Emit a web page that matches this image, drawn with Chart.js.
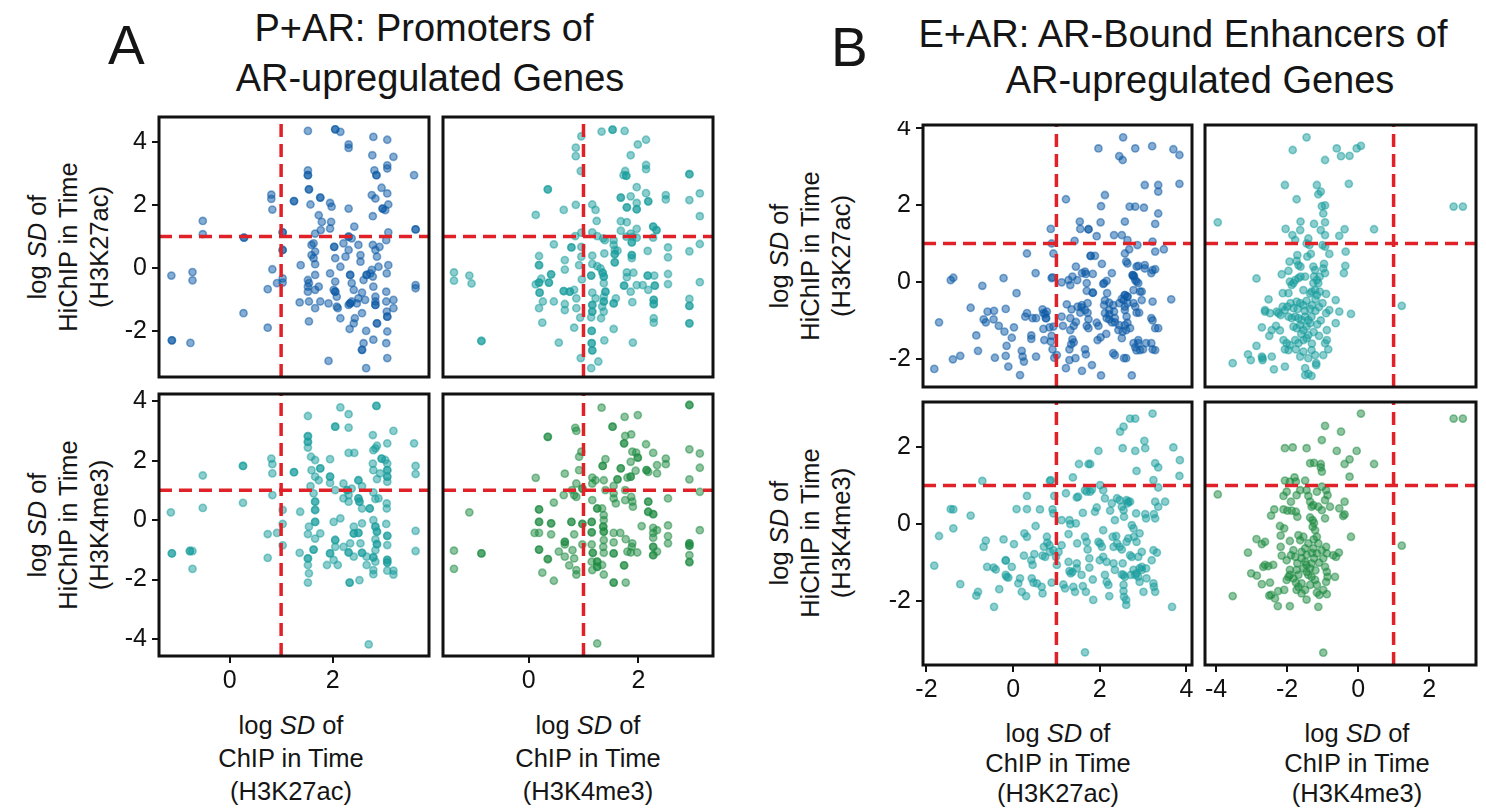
<!DOCTYPE html>
<html><head><meta charset="utf-8">
<script src="https://cdn.jsdelivr.net/npm/chart.js@4.4.1/dist/chart.umd.min.js"></script>
<style>
html,body{margin:0;padding:0;background:#fff;}
body{width:1486px;height:808px;position:relative;overflow:hidden;font-family:"Liberation Sans",Arial,Helvetica,sans-serif;color:#151515;}
.t{position:absolute;white-space:nowrap;line-height:1;}
.ctr{transform:translateX(-50%);}
.lbl{position:absolute;text-align:center;font-size:25.5px;line-height:33px;white-space:nowrap;transform:translateX(-50%);}
.ylbl{position:absolute;text-align:center;font-size:25.5px;line-height:31px;white-space:nowrap;transform:translate(-50%,-50%) rotate(-90deg);}
canvas{position:absolute;}
</style></head><body>

<div class="t" style="left:108px;top:18px;font-size:55px;">A</div>
<div class="t ctr" style="left:424px;top:9px;font-size:38px;">P+AR: Promoters of</div>
<div class="t ctr" style="left:430px;top:59px;font-size:38px;">AR-upregulated Genes</div>
<div class="t" style="left:831px;top:20px;font-size:55px;">B</div>
<div class="t ctr" style="left:1183px;top:15px;font-size:38px;">E+AR: AR-Bound Enhancers of</div>
<div class="t ctr" style="left:1200px;top:61px;font-size:38px;">AR-upregulated Genes</div>

<div class="ylbl" style="left:68px;top:247px;">log <i>SD</i> of<br>HiChIP in Time<br>(H3K27ac)</div>
<div class="ylbl" style="left:68px;top:525px;">log <i>SD</i> of<br>HiChIP in Time<br>(H3K4me3)</div>
<div class="ylbl" style="left:810px;top:256px;">log <i>SD</i> of<br>HiChIP in Time<br>(H3K27ac)</div>
<div class="ylbl" style="left:810px;top:533px;">log <i>SD</i> of<br>HiChIP in Time<br>(H3K4me3)</div>

<div class="lbl" style="left:291px;top:709px;">log <i>SD</i> of<br>ChIP in Time<br>(H3K27ac)</div>
<div class="lbl" style="left:588px;top:709px;">log <i>SD</i> of<br>ChIP in Time<br>(H3K4me3)</div>
<div class="lbl" style="left:1058px;top:718px;line-height:30px;">log <i>SD</i> of<br>ChIP in Time<br>(H3K27ac)</div>
<div class="lbl" style="left:1357px;top:718px;line-height:30px;">log <i>SD</i> of<br>ChIP in Time<br>(H3K4me3)</div>

<script>
// ---------------- DATA ----------------
const THRESHOLD = 1;

// Axis ranges
const A_X_RANGE_K27 = [-1.37, 3.87];
const A_X_RANGE_K4  = [-1.56, 3.36];
const A_Y_RANGE_K27 = [-3.45, 4.78];
const A_Y_RANGE_K4  = [-4.57, 4.24];
const B_X_RANGE_K27 = [-2.08, 4.13];
const B_X_RANGE_K4  = [-4.31, 3.32];
const B_Y_RANGE_K27 = [-2.73, 4.08];
const B_Y_RANGE_K4  = [-3.66, 3.17];

// Tick values
const A_X_TICKS = [0, 2];
const A_Y_TICKS_K27 = [-2, 0, 2, 4];
const A_Y_TICKS_K4 = [-4, -2, 0, 2, 4];
const B_X_TICKS_K27 = [-2, 0, 2, 4];
const B_X_TICKS_K4 = [-4, -2, 0, 2];
const B_Y_TICKS_K27 = [-2, 0, 2, 4];
const B_Y_TICKS_K4 = [-2, 0, 2];

// Panel A: promoters  [ChIP logSD, HiChIP logSD]
const promChipK27_hichipK27 = [[-1.13,-0.24],[-0.72,-0.13],[-0.72,-0.39],[-0.52,1.49],[-0.52,1.07],[-1.12,-2.29],[-1.12,-2.29],[-0.76,-2.37],[0.28,0.96],[0.28,0.96],[0.27,-1.43],[0.74,-1.89],[0.74,-0.67],[0.83,-0.04],[0.81,2.32],[0.81,2.19],[0.83,1.85],[0.92,-0.48],[1.03,1.13],[1.03,1.13],[1.03,0.57],[1.03,0.57],[1.03,-0.33],[1.03,-0.46],[1.25,2.12],[1.25,2.12],[1.38,0.09],[1.36,-1.09],[1.52,4.34],[1.52,3.09],[1.52,2.94],[1.52,2.94],[1.54,2.49],[1.54,2.49],[1.57,2.01],[1.54,-1.69],[1.54,-1.06],[1.52,-0.38],[1.52,-0.59],[1.52,-0.75],[1.54,-0.48],[1.59,0.73],[1.59,0.41],[1.63,0.78],[1.66,1.09],[1.66,0.52],[1.66,0.12],[1.63,0.31],[1.66,-0.22],[1.66,-0.69],[1.66,-1.27],[1.73,-0.59],[1.76,-1.06],[1.73,1.67],[1.79,1.46],[1.77,1.2],[1.95,2.06],[1.98,1.94],[1.97,1.46],[1.95,1.25],[1.76,2.23],[1.76,2.23],[2.05,4.39],[2.05,4.39],[2.15,4.31],[2.31,3.91],[2.31,3.8],[2.31,1.88],[2.03,0.67],[2.03,0.67],[2.05,0.31],[2.15,0.04],[1.95,-0.17],[2.05,-0.43],[2.02,-0.69],[2.05,-0.75],[2.05,-0.75],[1.92,-1.12],[2.08,-0.91],[2.10,-1.27],[2.15,-1.59],[2.08,-1.22],[1.92,-2.94],[2.21,0.78],[2.31,0.99],[2.31,0.99],[2.37,0.94],[2.42,1.31],[2.31,0.57],[2.25,0.36],[2.34,-0.22],[2.34,-0.22],[2.37,-0.48],[2.41,-0.69],[2.37,-1.06],[2.31,-1.17],[2.34,-1.12],[2.34,-1.12],[2.47,-1.12],[2.50,-0.96],[2.33,-1.93],[2.41,-1.75],[2.43,-1.59],[2.57,-1.43],[2.50,0.73],[2.54,0.41],[2.54,0.2],[2.60,-0.38],[2.57,-0.78],[2.63,-1.01],[2.66,-0.22],[2.66,-0.22],[2.73,-0.17],[2.76,-0.06],[2.78,-0.27],[2.79,-0.59],[2.83,-0.91],[2.83,-1.06],[2.83,-1.17],[2.83,-1.17],[2.60,-2.38],[2.57,-2.59],[2.57,-2.59],[2.65,-3.17],[2.65,-1.99],[2.79,-2.27],[2.86,-1.75],[2.86,-1.75],[2.79,4.15],[2.77,3.57],[2.81,3.09],[2.85,2.94],[2.85,2.94],[2.76,2.31],[2.78,1.64],[2.83,2.2],[2.78,0.73],[2.83,0.57],[2.91,0.67],[2.86,0.36],[2.89,0.04],[2.95,2.54],[2.97,1.88],[2.97,1.88],[3.02,1.83],[3.06,2.36],[3.06,3.25],[3.06,3.15],[3.06,4.06],[3.18,3.52],[3.08,2.01],[3.04,0.88],[3.08,1.13],[3.05,-0.17],[3.04,-0.75],[3.04,-1.06],[3.05,-1.38],[3.06,-1.54],[3.06,-1.54],[3.06,-2.01],[3.04,-2.38],[3.06,-2.85],[3.18,-1.01],[3.18,-1.27],[3.08,0.09],[3.58,2.94],[3.61,1.22],[3.61,1.22],[3.61,-0.54],[3.61,-0.64]];

const promChipK4_hichipK27 = [[-1.36,-0.14],[-1.36,-0.4],[-1.08,-0.24],[-1.04,-0.49],[-0.86,-2.31],[-0.86,-2.31],[0.35,2.49],[0.35,2.49],[0.13,1.68],[0.64,1.84],[0.86,2.0],[0.96,4.17],[0.86,3.81],[0.86,3.54],[0.95,3.07],[1.33,4.32],[1.53,4.38],[1.53,4.38],[1.75,4.34],[1.99,3.91],[2.14,4.06],[1.86,3.57],[2.14,3.26],[2.14,3.13],[1.76,3.07],[1.73,2.94],[1.78,2.92],[1.78,2.92],[2.93,2.97],[2.93,2.97],[3.12,2.36],[2.93,2.15],[3.12,1.64],[2.5,2.31],[2.5,2.17],[1.97,2.56],[1.86,2.27],[1.68,2.23],[1.68,2.23],[2.14,2.37],[2.18,2.11],[2.18,2.11],[1.97,2.06],[1.79,1.92],[1.79,1.92],[1.97,1.86],[1.97,1.86],[1.16,2.01],[1.22,1.84],[1.24,1.49],[1.68,1.48],[1.79,1.45],[1.68,1.18],[1.97,1.24],[1.86,1.09],[2.27,1.31],[2.27,1.31],[2.33,1.2],[2.33,1.2],[2.27,0.96],[0.85,1.01],[0.96,1.12],[1.16,1.13],[1.25,1.01],[1.36,0.94],[1.39,0.88],[1.55,0.88],[1.78,0.99],[1.9,0.99],[1.97,0.96],[0.46,0.75],[0.78,0.65],[0.78,0.65],[0.96,0.67],[0.96,0.36],[0.92,0.09],[0.19,0.38],[0.19,0.09],[0.19,0.09],[0.66,0.25],[0.66,-0.05],[1.16,0.39],[1.16,0.13],[1.25,0.06],[1.38,0.46],[1.55,0.73],[1.57,0.57],[1.57,0.44],[1.57,0.44],[1.57,0.18],[1.57,0.18],[1.62,0.55],[1.88,0.81],[1.88,0.81],[1.88,0.41],[1.88,0.41],[1.88,0.31],[2.17,0.54],[2.54,0.65],[2.54,0.34],[2.93,0.53],[3.12,0.76],[1.31,-0.01],[1.35,-0.15],[1.35,-0.15],[1.37,-0.27],[1.37,-0.27],[1.14,-0.24],[1.14,-0.24],[1.79,-0.14],[1.79,-0.29],[1.91,-0.15],[2.17,-0.24],[2.17,-0.24],[2.29,-0.24],[2.54,-0.19],[0.41,-0.2],[0.41,-0.2],[0.37,-0.46],[0.37,-0.46],[0.19,-0.46],[0.19,-0.46],[0.13,-0.52],[0.23,-0.34],[0.97,-0.36],[0.64,-0.73],[0.64,-0.73],[0.75,-0.75],[0.75,-0.75],[0.83,-0.69],[0.2,-0.78],[0.2,-0.78],[1.37,-0.48],[1.4,-0.75],[1.4,-0.75],[1.37,-0.91],[1.37,-1.06],[1.37,-1.06],[1.34,-1.22],[1.37,-1.38],[1.32,-1.59],[1.16,-0.78],[1.22,-0.96],[1.16,-1.17],[1.16,-1.17],[1.16,-1.38],[1.16,-1.38],[1.14,-1.56],[1.55,-1.12],[1.55,-1.12],[1.59,-0.96],[1.74,-0.56],[1.74,-0.56],[1.86,-0.75],[1.89,-1.08],[1.97,-0.54],[2.08,-0.54],[2.18,-0.69],[2.3,-0.56],[2.3,-0.56],[2.28,-1.01],[2.28,-1.01],[2.28,-1.14],[2.28,-1.14],[2.28,-1.59],[2.28,-1.73],[2.54,-0.51],[2.93,-0.98],[2.93,-1.2],[2.93,-1.2],[2.93,-1.75],[2.93,-1.75],[3.12,-0.45],[0.26,-1.06],[0.19,-1.27],[0.46,-1.06],[0.66,-1.14],[0.66,-1.33],[0.87,-0.96],[0.87,-1.27],[0.94,-1.57],[0.25,-1.73],[0.83,-1.89],[0.55,-2.36],[1.15,-1.99],[1.15,-1.99],[1.15,-2.38],[1.15,-2.38],[1.16,-2.61],[1.16,-2.61],[1.27,-2.96],[1.14,-3.17],[1.38,-2.29],[1.55,-1.93],[1.9,-2.36],[0.95,-2.85]];

const promChipK27_hichipK4 = [[-1.14,0.26],[-1.12,-1.12],[-1.12,-1.12],[-0.77,-1.04],[-0.77,-1.04],[-0.72,-1.04],[-0.72,-1.64],[-0.52,1.5],[-0.52,0.41],[0.26,1.82],[0.26,1.82],[0.26,0.58],[0.81,2.07],[0.83,1.88],[0.83,1.57],[0.83,0.84],[0.74,-0.47],[0.92,-0.43],[0.74,-1.27],[1.03,0.34],[1.03,-0.13],[1.03,-0.85],[1.25,1.61],[1.25,1.61],[1.37,0.28],[1.36,-1.1],[1.52,3.5],[1.52,2.82],[1.52,2.82],[1.52,2.63],[1.52,2.63],[1.52,2.44],[1.58,2.13],[1.66,2.02],[1.59,1.68],[1.66,1.46],[1.76,1.74],[1.76,1.74],[1.73,1.34],[1.57,1.14],[1.63,0.9],[1.66,0.62],[1.66,0.62],[1.66,0.34],[1.66,0.34],[1.54,-0.22],[1.52,-0.47],[1.66,-0.06],[1.66,-0.06],[1.66,-0.62],[1.76,-0.45],[1.63,-0.99],[1.63,-0.99],[1.52,-1.29],[1.52,-1.29],[1.52,-1.51],[1.54,-1.79],[1.52,-2.1],[1.95,2.05],[2.05,3.14],[2.05,3.14],[2.15,3.79],[2.31,3.56],[2.31,3.11],[2.31,2.26],[2.42,2.26],[1.95,1.46],[1.95,1.46],[1.95,1.25],[2.05,1.01],[2.21,1.23],[2.28,1.01],[2.28,1.01],[2.37,1.06],[2.57,1.14],[2.21,0.73],[2.31,0.84],[2.31,0.62],[2.02,-0.06],[2.15,0.06],[2.05,-0.67],[2.05,-0.67],[2.05,-0.9],[1.95,-1.12],[1.95,-1.12],[1.89,-1.51],[2.02,-1.34],[2.1,-1.51],[2.21,-0.9],[2.31,-1.09],[2.31,-1.09],[2.41,-1.23],[2.34,-0.78],[2.41,-0.45],[2.41,-0.45],[2.41,-0.22],[2.5,1.34],[2.5,1.34],[2.5,0.73],[2.5,0.73],[2.52,0.62],[2.52,0.62],[2.57,0.39],[2.5,-0.43],[2.5,-0.43],[2.57,-0.11],[2.54,-0.78],[2.57,-1.1],[2.57,-1.1],[2.33,-2.1],[2.33,-2.1],[2.52,-2.02],[2.66,-1.23],[2.66,-1.51],[2.72,0.39],[2.72,0.39],[2.78,2.86],[2.79,2.35],[2.83,2.41],[2.86,2.5],[2.85,3.84],[2.85,3.84],[2.78,1.9],[2.79,1.68],[2.86,1.38],[2.92,1.57],[2.79,0.93],[2.83,0.71],[2.89,0.73],[2.79,0],[2.83,-0.22],[2.83,-0.22],[2.86,-0.39],[2.86,-0.39],[2.83,-0.65],[2.86,-0.81],[2.86,-0.81],[2.83,-1.01],[2.79,-1.25],[2.79,-1.25],[2.83,-1.4],[2.79,-1.68],[2.79,-1.82],[2.7,-4.18],[2.95,2.07],[2.95,2.07],[3.02,2.02],[3.06,1.9],[3.06,1.68],[3.06,1.68],[3.06,1.46],[3.06,1.46],[3.06,1.29],[3.05,0.56],[3.05,0.39],[3.04,-0.13],[3.06,-0.53],[3.06,-0.53],[3.06,-0.84],[3.06,-1.34],[3.06,-1.34],[3.06,-1.43],[3.06,-1.43],[3.06,-1.7],[3.18,-1.7],[3.18,-1.83],[3.18,3.0],[3.06,2.58],[3.58,2.58],[3.61,1.82],[3.61,1.55],[3.61,-0.36],[3.61,-1.04]];

const promChipK4_hichipK4 = [[-1.36,-1.03],[-1.36,-1.64],[-1.08,0.26],[-0.86,-1.12],[-0.86,-1.12],[0.35,2.8],[0.35,2.8],[0.13,1.42],[0.19,0.36],[0.19,0.36],[0.19,-0.06],[0.19,-0.06],[0.19,-0.99],[0.19,-0.99],[0.11,-0.43],[0.19,-0.43],[0.41,-0.11],[0.41,-0.11],[0.41,-0.48],[0.46,0.59],[0.35,-1.31],[0.35,-1.31],[0.25,-1.77],[0.46,-2.04],[0.66,1.56],[0.64,0.84],[0.66,-0.73],[0.66,-0.73],[0.66,-0.82],[0.55,-1.06],[0.66,-1.23],[0.74,-1.52],[0.83,-1.29],[0.87,-1.68],[0.87,-1.83],[0.8,-1.01],[0.78,-0.06],[0.78,-0.06],[0.83,-0.48],[0.85,3.1],[0.87,3.0],[0.96,2.3],[0.92,2.13],[0.92,1.68],[0.87,1.23],[0.79,1.01],[0.83,0.84],[0.87,0.78],[0.98,1.06],[0.98,1.06],[0.98,-0.13],[0.98,-0.13],[0.98,-0.82],[1.33,3.78],[1.25,-4.15],[1.16,1.43],[1.22,1.34],[1.16,1.23],[1.16,0.67],[1.25,0.39],[1.25,0.39],[1.34,0.39],[1.15,-0.06],[1.15,-0.06],[1.15,-0.41],[1.15,-0.41],[1.15,-0.82],[1.17,-1.1],[1.17,-1.1],[1.15,-1.4],[1.16,-1.68],[1.25,-1.4],[1.25,-1.4],[1.25,-1.57],[1.25,-1.57],[1.34,-1.51],[1.37,-1.83],[1.35,1.82],[1.35,1.82],[1.4,2.05],[1.37,1.34],[1.4,1.01],[1.37,0.17],[1.37,0],[1.36,-0.22],[1.36,-0.22],[1.37,-0.39],[1.37,-0.39],[1.37,-0.67],[1.36,-0.9],[1.37,-1.1],[1.53,3.14],[1.53,3.14],[1.55,1.15],[1.55,0.9],[1.55,0.73],[1.59,0.56],[1.62,1.37],[1.62,1.37],[1.55,-0.43],[1.55,-0.75],[1.55,-1.12],[1.55,-1.12],[1.55,-2.1],[1.55,-2.1],[1.67,-0.43],[1.74,-1.52],[1.74,-1.52],[1.77,-2.1],[1.68,1.74],[1.68,1.74],[1.74,2.58],[1.74,2.58],[1.76,2.83],[1.87,2.88],[1.75,3.47],[1.99,3.53],[1.8,1.43],[1.86,1.46],[1.86,1.46],[1.76,1.01],[1.76,0.67],[1.87,0.78],[1.9,0.45],[1.89,0.62],[1.77,-0.64],[1.89,-0.78],[1.88,-0.9],[1.8,-1.06],[1.86,-1.09],[1.98,-1.09],[1.89,2.3],[1.96,2.27],[1.99,2.1],[1.99,2.1],[1.86,1.96],[1.95,1.66],[2.14,2.55],[2.15,1.68],[2.15,1.68],[2.18,1.62],[2.18,0.62],[2.18,0.62],[2.18,0.28],[2.18,0.28],[2.27,0.2],[2.27,0.2],[2.06,-0.2],[2.27,-0.26],[2.27,-0.43],[2.27,-0.59],[2.27,-0.9],[2.27,-0.9],[2.27,-1.18],[2.27,-1.18],[2.34,-0.34],[2.27,2.26],[2.5,2.07],[2.34,1.85],[2.5,1.88],[2.34,1.57],[2.54,0.73],[2.54,-0.18],[2.54,-0.54],[2.54,-0.78],[2.34,-1.06],[2.93,3.87],[2.93,3.87],[2.93,2.38],[2.93,1.37],[3.12,2.24],[3.12,1.76],[3.12,0.95],[3.12,-0.34],[2.93,-0.78],[2.93,-0.78],[2.93,-0.86],[2.93,-0.86],[2.93,-1.18],[2.93,-1.41],[2.93,-1.41]];

// Panel B: AR-bound enhancers  [ChIP logSD, HiChIP logSD]
const enhChipK27_hichipK27 = [[-1.82,-2.26],[-1.71,-1.05],[-1.44,0.05],[-1.38,0.11],[-1.39,-2.01],[-1.22,-1.92],[-0.98,-0.67],[-0.85,-1.39],[-0.81,-1.79],[-0.71,-0.1],[-0.68,-0.97],[-0.63,-1.05],[-0.59,-0.77],[-0.45,-0.97],[-0.44,-0.75],[-0.42,-1.97],[-0.33,-1.14],[-0.22,0.1],[-0.17,-0.7],[-0.2,-1.29],[-0.15,-1.66],[-0.17,-1.92],[-0.11,-2.2],[-0.03,-1.45],[0.02,-1.18],[0.08,-0.29],[0.2,-1.79],[0.22,-1.94],[0.25,-2.07],[0.16,-2.42],[0.28,-0.9],[0.32,-0.81],[0.45,-0.94],[0.53,-0.94],[0.32,0.74],[0.42,-1.48],[0.42,-1.39],[0.52,0.23],[0.53,-1.94],[0.68,-0.71],[0.7,-0.81],[0.78,-0.77],[0.76,-0.94],[0.76,-0.94],[0.74,-0.83],[0.7,-1.22],[0.84,-1.18],[0.72,-1.51],[0.87,-1.55],[0.89,0.1],[0.91,0.12],[0.93,-1.16],[0.89,-1.4],[0.91,-1.75],[0.95,-1.97],[0.87,1.38],[0.89,1.0],[0.93,0.74],[1.01,-1.9],[1.12,-0.01],[1.12,-0.9],[1.15,-1.14],[1.22,2.15],[1.22,-2.24],[1.3,-2.03],[1.28,0.05],[1.32,-0.08],[1.37,0.14],[1.42,1.07],[1.24,-0.58],[1.35,-0.71],[1.32,-0.94],[1.4,-1.14],[1.32,-1.25],[1.45,-1.04],[1.37,-1.49],[1.4,-1.57],[1.34,-1.62],[1.3,-1.75],[1.45,0.4],[1.48,0.05],[1.49,-0.64],[1.58,-0.66],[1.59,-0.6],[1.55,-0.8],[1.54,1.57],[1.55,1.38],[1.74,1.37],[1.74,1.37],[1.93,1.19],[1.44,-1.98],[1.59,-2.31],[1.66,-1.75],[1.68,-1.88],[1.82,-2.16],[1.59,0.23],[1.66,0.27],[1.68,0.21],[1.84,0.21],[1.7,-0.03],[1.7,-0.23],[1.72,-0.55],[1.66,-0.73],[1.72,-0.8],[1.74,-0.97],[1.7,-1.14],[1.74,-1.2],[1.79,0.68],[1.79,0.68],[1.89,0.68],[1.84,-0.28],[1.84,-0.28],[1.93,-1.06],[1.97,-1.14],[1.95,-1.51],[2.02,-1.44],[2.05,0.47],[1.97,3.47],[2.03,1.97],[2.02,1.55],[2.12,2.26],[2.03,-2.43],[2.08,-0.05],[2.1,-0.03],[2.16,0.03],[2.28,0.23],[2.12,-0.48],[2.1,-0.6],[2.12,-0.81],[2.16,-0.94],[2.17,-0.29],[2.22,-0.54],[2.22,-0.73],[2.22,-0.84],[2.22,-0.97],[2.15,-1.35],[2.33,1.22],[2.51,1.22],[2.31,-0.6],[2.33,-0.77],[2.35,-0.94],[2.45,-0.55],[2.28,-1.05],[2.35,-1.05],[2.43,-1.25],[2.45,-1.12],[2.31,-1.85],[2.35,-1.9],[2.45,3.27],[2.53,3.17],[2.54,3.76],[2.51,-0.44],[2.55,-0.47],[2.58,-0.64],[2.58,-0.34],[2.58,-0.34],[2.64,-0.38],[2.64,-0.38],[2.64,-0.55],[2.58,-0.73],[2.62,-0.9],[2.64,-1.06],[2.58,-1.12],[2.51,-1.46],[2.53,-1.29],[2.61,-1.25],[2.7,-1.2],[2.56,-1.98],[2.61,-1.98],[2.58,0.74],[2.61,0.53],[2.64,0.48],[2.58,1.57],[2.64,1.09],[2.68,0.85],[2.69,1.96],[2.82,1.96],[2.82,3.47],[2.74,-2.43],[2.76,0.18],[2.76,0.18],[2.78,0.14],[2.79,0.16],[2.82,0.05],[2.78,-0.21],[2.85,0.01],[2.78,-0.55],[2.82,-0.64],[2.85,-0.8],[2.85,0.4],[2.87,0.96],[2.89,0.42],[2.78,-1.59],[2.85,-1.78],[2.82,-1.7],[2.89,-0.03],[2.93,-0.25],[2.97,-0.25],[2.91,-0.8],[2.97,-0.47],[2.93,-1.77],[2.89,-1.51],[2.89,-1.59],[3.0,-1.75],[3.07,-1.59],[3.02,1.93],[3.04,2.52],[3.04,0.44],[3.04,0.35],[3.21,3.53],[3.22,1.05],[3.28,1.51],[3.28,0.79],[3.19,0.23],[3.22,0.31],[3.28,0.33],[3.22,-0.51],[3.19,-0.94],[3.22,-1.0],[3.28,-1.2],[3.19,-1.59],[3.22,-1.75],[3.28,-1.77],[3.35,2.35],[3.35,2.52],[3.35,1.78],[3.35,-1.2],[3.48,0.85],[3.65,-0.45],[3.7,3.45],[3.84,3.3],[3.84,2.55]];

const enhChipK4_hichipK27 = [[-3.95,1.55],[-3.53,-2.11],[-3.1,-1.88],[-3.02,-2.03],[-2.86,0.09],[-2.86,-1.66],[-2.71,-1.94],[-2.69,-2.03],[-2.69,-1.98],[-2.43,-1.94],[-2.71,-1.18],[-2.62,-0.73],[-2.52,-0.45],[-2.62,-0.77],[-2.48,-0.81],[-2.5,-1.4],[-2.37,-2.27],[-2.43,-1.25],[-2.31,-1.14],[-2.2,-1.26],[-2.29,-0.77],[-2.24,-0.81],[-2.18,-0.86],[-2.06,-0.73],[-2.12,-0.64],[-2.15,0.2],[-2.12,-0.29],[-1.96,-0.29],[-1.96,0.29],[-2.06,2.52],[-2.04,1.38],[-1.84,3.43],[-1.73,2.15],[-1.85,1.22],[-1.77,1.09],[-1.93,0.53],[-1.73,0.55],[-1.71,0.7],[-1.68,0.44],[-1.62,0.4],[-1.77,0.05],[-1.68,0.1],[-1.62,0.14],[-1.49,0.14],[-1.54,-0.21],[-1.62,1.57],[-1.63,1.35],[-1.45,3.76],[-1.4,1.13],[-1.45,1.0],[-1.37,0.96],[-1.33,0.73],[-1.43,0.66],[-1.87,-0.08],[-1.82,-0.03],[-1.92,0.01],[-1.99,-0.64],[-1.9,-0.55],[-1.82,-0.68],[-1.73,-0.51],[-1.63,-0.55],[-1.54,-0.6],[-1.45,-0.49],[-1.96,-0.9],[-1.87,-0.94],[-1.77,-0.9],[-1.68,-0.94],[-1.59,-0.99],[-1.49,-0.9],[-1.4,-0.99],[-1.31,-0.9],[-1.82,-1.16],[-1.73,-1.2],[-1.63,-1.12],[-1.54,-1.25],[-1.45,-1.16],[-1.35,-1.07],[-2.1,-1.51],[-2.01,-1.59],[-1.92,-1.64],[-1.77,-1.51],[-1.68,-1.59],[-1.54,-1.51],[-1.4,-1.38],[-1.45,-1.46],[-2.06,-1.75],[-1.96,-1.77],[-1.75,-1.75],[-1.63,-1.94],[-1.54,-1.81],[-1.4,-1.98],[-1.31,-1.77],[-1.21,-1.9],[-2.06,-2.2],[-1.49,-2.24],[-1.4,-2.39],[-1.31,-2.44],[-1.49,-2.42],[-1.18,-2.16],[-1.26,0.4],[-1.21,0.31],[-1.24,0.14],[-1.16,0.05],[-1.26,-0.03],[-1.12,-0.03],[-1.08,0.14],[-1.21,-0.21],[-1.16,-0.34],[-1.31,-0.25],[-1.08,-0.25],[-1.16,2.52],[-1.12,2.28],[-1.05,2.35],[-1.02,1.97],[-0.93,1.99],[-0.98,1.78],[-1.24,1.51],[-0.93,1.55],[-1.05,1.35],[-0.93,1.22],[-0.93,3.17],[-1.0,0.96],[-0.93,0.92],[-0.81,0.73],[-0.96,0.47],[-0.98,0.35],[-0.93,0.23],[-0.9,-0.31],[-1.0,-0.55],[-0.9,-0.81],[-0.81,-0.73],[-0.88,-1.25],[-0.88,-1.51],[-0.93,-1.59],[-0.84,-1.75],[-0.98,-1.9],[-1.18,-2.11],[-0.63,-0.47],[-0.53,-0.77],[-0.63,-1.07],[-0.2,-0.83],[-0.6,3.47],[-0.48,3.27],[-0.24,3.28],[-0.04,3.47],[0.08,3.54],[-0.26,2.55],[-0.53,1.2],[-0.38,1.37],[-0.35,0.79],[-0.36,0.42],[-0.4,0.23],[0.45,1.37],[1.23,-0.62],[2.69,1.96],[2.95,1.96],[-1.35,-0.7],[-1.3,-0.6],[-1.2,-0.75],[-1.1,-0.65],[-1.15,-1.1],[-1.25,-1.3],[-1.1,-1.4],[-1.3,-1.6],[-1.6,-1.35],[-1.7,-0.7],[-1.5,-0.75],[-1.2,-0.45],[-1.35,-0.3],[-1.05,-1.0]];

const enhChipK27_hichipK4 = [[-1.82,-1.08],[-1.71,-0.31],[-1.44,0.39],[-1.38,0.38],[-1.38,-0.11],[-1.22,-1.56],[-0.98,0.22],[-0.85,-1.86],[-0.81,-1.76],[-0.71,1.12],[-0.68,-0.59],[-0.63,-0.43],[-0.6,-1.11],[-0.45,-1.13],[-0.4,-1.18],[-0.44,-2.15],[-0.32,-1.69],[-0.22,-0.4],[-0.17,-0.94],[-0.17,-0.95],[-0.15,-1.37],[-0.17,-1.32],[-0.11,-1.39],[-0.03,-1.11],[0.02,-0.52],[0.08,0.39],[0.12,-1.54],[0.16,-1.41],[0.2,-1.76],[0.3,-1.87],[0.25,-0.82],[0.26,-0.24],[0.32,-0.33],[0.32,0.73],[0.32,0.39],[0.43,-1.41],[0.47,-1.52],[0.55,-1.54],[0.42,-0.94],[0.45,-1.06],[0.49,-0.78],[0.52,-0.05],[0.62,0.38],[0.66,-1.63],[0.68,-1.8],[0.68,-0.82],[0.71,-0.59],[0.74,-0.85],[0.78,-0.33],[0.79,-0.48],[0.84,-0.55],[0.85,-0.72],[0.85,1.12],[0.87,1.14],[0.91,0.38],[0.93,0.28],[0.89,-1.52],[0.93,-0.68],[0.95,0.73],[1.01,-1.06],[0.99,-0.85],[1.05,-0.72],[1.12,0.1],[1.12,-0.55],[1.16,-1.57],[1.2,-1.67],[1.22,0.8],[1.28,-0.98],[1.3,0.1],[1.32,0],[1.28,-0.26],[1.3,-1.22],[1.33,-1.28],[1.37,-1.24],[1.39,-1.63],[1.43,-1.76],[1.38,1.21],[1.47,0.69],[1.5,0.71],[1.45,0.02],[1.48,-0.5],[1.47,-1.02],[1.47,-1.15],[1.52,1.56],[1.74,1.56],[1.78,1.56],[1.58,-1.32],[1.61,-1.61],[1.68,-1.76],[1.61,0.29],[1.66,-0.33],[1.7,-0.46],[1.72,-0.66],[1.66,0.88],[1.7,0.84],[1.78,0.84],[1.82,0.9],[1.76,-0.89],[1.76,-1.13],[1.84,-1.44],[1.85,-1.97],[1.89,0.32],[1.93,0.43],[1.97,1.9],[1.97,-0.46],[2.01,-0.5],[2.05,-0.59],[2.08,-0.16],[2.01,1.01],[2.08,0.88],[2.12,0.67],[2.0,-0.94],[2.08,-0.85],[2.16,-0.98],[2.12,-1.32],[2.16,-1.5],[2.2,-1.58],[2.22,-1.87],[2.24,0.35],[2.28,0.54],[2.3,-0.33],[2.32,-0.59],[2.32,-1.02],[2.35,0.1],[2.38,-0.31],[2.4,-0.5],[2.46,-0.59],[2.35,-1.19],[2.4,0.67],[2.46,0.62],[2.51,0.45],[2.55,0.36],[2.56,0.19],[2.47,2.4],[2.55,2.53],[2.53,1.97],[2.51,-0.66],[2.53,-1.02],[2.51,-1.31],[2.55,-1.32],[2.58,-1.37],[2.55,-1.58],[2.55,-1.74],[2.56,-1.89],[2.61,-1.97],[2.61,-2.1],[2.62,0.62],[2.64,0.54],[2.66,0.58],[2.7,0.58],[2.62,-0.46],[2.66,-0.37],[2.7,-0.81],[2.74,-0.85],[2.72,-1.32],[2.7,2.74],[2.82,2.74],[2.82,1.9],[2.85,1.38],[2.74,-0.03],[2.78,-0.11],[2.79,-0.33],[2.85,-0.46],[2.84,0.28],[2.78,-1.19],[2.82,-1.32],[2.85,-1.28],[2.89,-1.37],[2.92,-1.15],[2.97,-1.19],[2.97,-1.11],[2.89,-0.85],[2.92,-0.24],[2.97,-0.72],[3.01,-1.76],[2.92,-1.5],[3.05,1.97],[3.03,2.16],[3.05,0.26],[3.07,0.15],[3.07,-1.15],[3.08,-1.41],[3.22,2.87],[3.24,1.14],[3.25,0.26],[3.28,0.15],[3.24,-0.68],[3.2,-0.94],[3.24,-1.54],[3.25,-1.63],[3.28,-1.76],[3.28,1.58],[3.35,1.47],[3.28,0.58],[3.35,0.45],[3.35,0.95],[3.51,0.58],[3.32,-0.74],[3.67,-2.15],[3.7,1.99],[3.85,1.66],[3.84,1.25],[1.66,-3.33]];

const enhChipK4_hichipK4 = [[-3.95,0.77],[-3.53,-1.87],[-3.1,-0.74],[-3.01,-1.28],[-2.85,-1.34],[-2.86,-0.39],[-2.71,-0.52],[-2.62,-0.46],[-2.71,-1.56],[-2.48,-1.52],[-2.45,-1.84],[-2.34,-1.93],[-2.5,-1.86],[-2.67,-1.11],[-2.62,-1.06],[-2.53,-1.09],[-2.39,-1.06],[-2.26,-2.13],[-1.92,-2.13],[-2.45,0.22],[-2.36,0.38],[-2.2,-0.05],[-2.08,-0.11],[-2.18,-0.3],[-2.18,-0.59],[-2.15,-0.82],[-2.25,-1.74],[-2.08,-1.71],[-2.01,-1.45],[-1.96,-1.37],[-2.06,1.97],[-1.84,1.99],[-2.06,1.13],[-1.79,1.21],[-1.92,1.1],[-1.75,1.1],[-2.1,0.73],[-2.01,0.84],[-1.89,0.58],[-1.73,0.75],[-1.63,0.88],[-1.49,1.13],[-2.1,0.38],[-1.99,0.35],[-1.87,0.35],[-1.75,0.32],[-1.71,0.19],[-1.92,-0.44],[-1.89,-0.81],[-2.01,-0.94],[-1.82,-0.68],[-1.77,-0.85],[-1.71,-1.02],[-1.73,-1.19],[-1.68,-1.32],[-1.68,-0.29],[-1.63,-0.42],[-1.54,-0.33],[-1.49,-0.63],[-1.59,-0.72],[-1.59,-0.89],[-1.49,-0.98],[-1.45,-1.06],[-1.54,-1.15],[-1.45,-1.24],[-1.45,1.97],[-1.35,1.58],[-1.24,1.59],[-1.45,0.88],[-1.4,0.73],[-1.35,0.58],[-1.31,0.45],[-1.26,0.49],[-1.35,0.17],[-1.28,0.1],[-1.24,0.03],[-1.28,-0.07],[-1.21,-0.16],[-1.16,-0.33],[-1.12,-0.5],[-1.16,-0.76],[-1.02,-0.68],[-0.98,-0.89],[-1.4,-1.32],[-1.31,-1.37],[-1.21,-1.45],[-1.16,-1.58],[-1.35,-1.58],[-1.49,-1.71],[-1.45,-1.96],[-1.16,-1.78],[-1.09,-1.84],[-1.12,-2.15],[-0.98,-1.71],[-0.88,-1.82],[-0.9,-1.5],[-1.02,2.18],[-0.93,2.55],[-1.05,1.56],[-1.05,1.47],[-1.02,1.36],[-1.16,0.84],[-1.02,0.97],[-0.9,0.88],[-0.86,0.75],[-0.93,0.62],[-1.12,0.45],[-1.02,0.36],[-0.93,0.15],[-0.79,0.45],[-0.9,-0.59],[-0.88,-0.76],[-0.93,-1.11],[-0.88,-1.24],[-0.86,-1.37],[-0.7,-0.81],[-0.62,-0.85],[-0.54,-0.74],[-0.65,-1.37],[-0.53,0.41],[-0.42,0.21],[-0.38,0.25],[-0.38,0.58],[-0.2,-0.33],[-0.6,1.9],[-0.48,2.4],[-0.24,1.23],[-0.38,1.56],[-0.24,1.68],[-0.04,1.9],[0.08,2.87],[0.45,1.56],[1.23,-0.56],[2.69,2.74],[2.95,2.74],[-0.98,-3.34],[-1.92,-1.19],[-1.92,-1.32],[-1.82,-1.41],[-1.75,-1.52],[-1.68,-1.63],[-1.59,-1.54],[-1.73,-1.71],[-1.59,-1.8],[-1.26,-0.63],[-1.24,-0.89],[-1.31,-1.02],[-1.25,-0.4],[-1.3,-0.75],[-1.2,-1.2],[-1.35,-1.15],[-1.4,-0.5],[-1.1,-1.0],[-1.45,-0.8]];

// ---------------- RENDER ----------------
const FONT = '"Liberation Sans", Arial, Helvetica, sans-serif';
const RED = 'rgb(224,34,40)';
const BLUE = 'rgba(12,90,166,0.5)';
const TEAL = 'rgba(26,158,158,0.5)';
const GREEN = 'rgba(30,140,65,0.5)';

const boxPlugin = {
  id: 'panelBox',
  afterDraw(chart) {
    const {ctx, chartArea: a} = chart;
    ctx.save();
    ctx.strokeStyle = '#111';
    ctx.lineWidth = 3;
    ctx.strokeRect(a.left, a.top, a.right - a.left, a.bottom - a.top);
    ctx.restore();
  }
};

const panels = [
  {pts: promChipK27_hichipK27, color: BLUE,  xr: A_X_RANGE_K27, yr: A_Y_RANGE_K27, xt: A_X_TICKS, yt: A_Y_TICKS_K27, showX: false, showY: true,  box: [158.5, 117, 428.5, 377]},
  {pts: promChipK4_hichipK27,  color: TEAL,  xr: A_X_RANGE_K4,  yr: A_Y_RANGE_K27, xt: A_X_TICKS, yt: A_Y_TICKS_K27, showX: false, showY: false, box: [442.5, 117, 712, 377]},
  {pts: promChipK27_hichipK4,  color: TEAL,  xr: A_X_RANGE_K27, yr: A_Y_RANGE_K4,  xt: A_X_TICKS, yt: A_Y_TICKS_K4,  showX: true,  showY: true,  box: [158.5, 394, 428.5, 656]},
  {pts: promChipK4_hichipK4,   color: GREEN, xr: A_X_RANGE_K4,  yr: A_Y_RANGE_K4,  xt: A_X_TICKS, yt: A_Y_TICKS_K4,  showX: true,  showY: false, box: [442.5, 394, 712, 656]},
  {pts: enhChipK27_hichipK27,  color: BLUE,  xr: B_X_RANGE_K27, yr: B_Y_RANGE_K27, xt: B_X_TICKS_K27, yt: B_Y_TICKS_K27, showX: false, showY: true,  box: [923, 125, 1192, 387]},
  {pts: enhChipK4_hichipK27,   color: TEAL,  xr: B_X_RANGE_K4,  yr: B_Y_RANGE_K27, xt: B_X_TICKS_K4,  yt: B_Y_TICKS_K27, showX: false, showY: false, box: [1205, 125, 1476, 387]},
  {pts: enhChipK27_hichipK4,   color: TEAL,  xr: B_X_RANGE_K27, yr: B_Y_RANGE_K4,  xt: B_X_TICKS_K27, yt: B_Y_TICKS_K4,  showX: true,  showY: true,  box: [923, 402, 1192, 665]},
  {pts: enhChipK4_hichipK4,    color: GREEN, xr: B_X_RANGE_K4,  yr: B_Y_RANGE_K4,  xt: B_X_TICKS_K4,  yt: B_Y_TICKS_K4,  showX: true,  showY: false, box: [1205, 402, 1476, 665]}
];

function zeroPad(s) { s.paddingTop = 0; s.paddingBottom = 0; s.paddingLeft = 0; s.paddingRight = 0; }

panels.forEach(p => {
  const YW = p.showY ? 70 : 4, XH = p.showX ? 48 : 4, PT = 4, PR = 4;
  const [l, t, r, b] = p.box;
  const cv = document.createElement('canvas');
  const w = Math.round(r - l + YW + PR), h = Math.round(b - t + PT + XH);
  cv.width = w; cv.height = h;
  cv.style.left = (l - YW) + 'px';
  cv.style.top = (t - PT) + 'px';
  cv.style.width = w + 'px'; cv.style.height = h + 'px';
  document.body.appendChild(cv);

  const tickFont = {family: FONT, size: 25};
  new Chart(cv, {
    type: 'scatter',
    data: {
      datasets: [
        {type: 'line', data: [{x: THRESHOLD, y: p.yr[0]}, {x: THRESHOLD, y: p.yr[1]}], borderColor: RED, borderWidth: 3.5, borderDash: [13, 7], pointRadius: 0, fill: false},
        {type: 'line', data: [{x: p.xr[0], y: THRESHOLD}, {x: p.xr[1], y: THRESHOLD}], borderColor: RED, borderWidth: 3.5, borderDash: [13, 7], pointRadius: 0, fill: false},
        {data: p.pts.map(([x, y]) => ({x, y})), pointRadius: 3.6, pointHoverRadius: 3.6, borderWidth: 1.6, backgroundColor: p.color, borderColor: p.color}
      ]
    },
    options: {
      responsive: false, animation: false, devicePixelRatio: 1, events: [],
      layout: {padding: {top: PT, right: PR, left: 0, bottom: 0}, autoPadding: false},
      plugins: {legend: {display: false}, tooltip: {enabled: false}},
      scales: {
        x: {
          type: 'linear', min: p.xr[0], max: p.xr[1],
          afterFit: s => { s.height = XH; zeroPad(s); },
          afterBuildTicks: s => { s.ticks = p.xt.map(v => ({value: v})); },
          ticks: {display: p.showX, font: tickFont, color: '#111', padding: 3, maxRotation: 0, autoSkip: false, callback: v => String(v)},
          grid: {display: true, drawOnChartArea: false, drawTicks: p.showX, tickLength: 7, color: '#111', lineWidth: 2},
          border: {display: false}
        },
        y: {
          type: 'linear', min: p.yr[0], max: p.yr[1],
          afterFit: s => { s.width = YW; zeroPad(s); },
          afterBuildTicks: s => { s.ticks = p.yt.map(v => ({value: v})); },
          ticks: {display: p.showY, font: tickFont, color: '#111', padding: 5, autoSkip: false, callback: v => String(v)},
          grid: {display: true, drawOnChartArea: false, drawTicks: p.showY, tickLength: 7, color: '#111', lineWidth: 2},
          border: {display: false}
        }
      }
    },
    plugins: [boxPlugin]
  });
});
</script>
</body></html>
